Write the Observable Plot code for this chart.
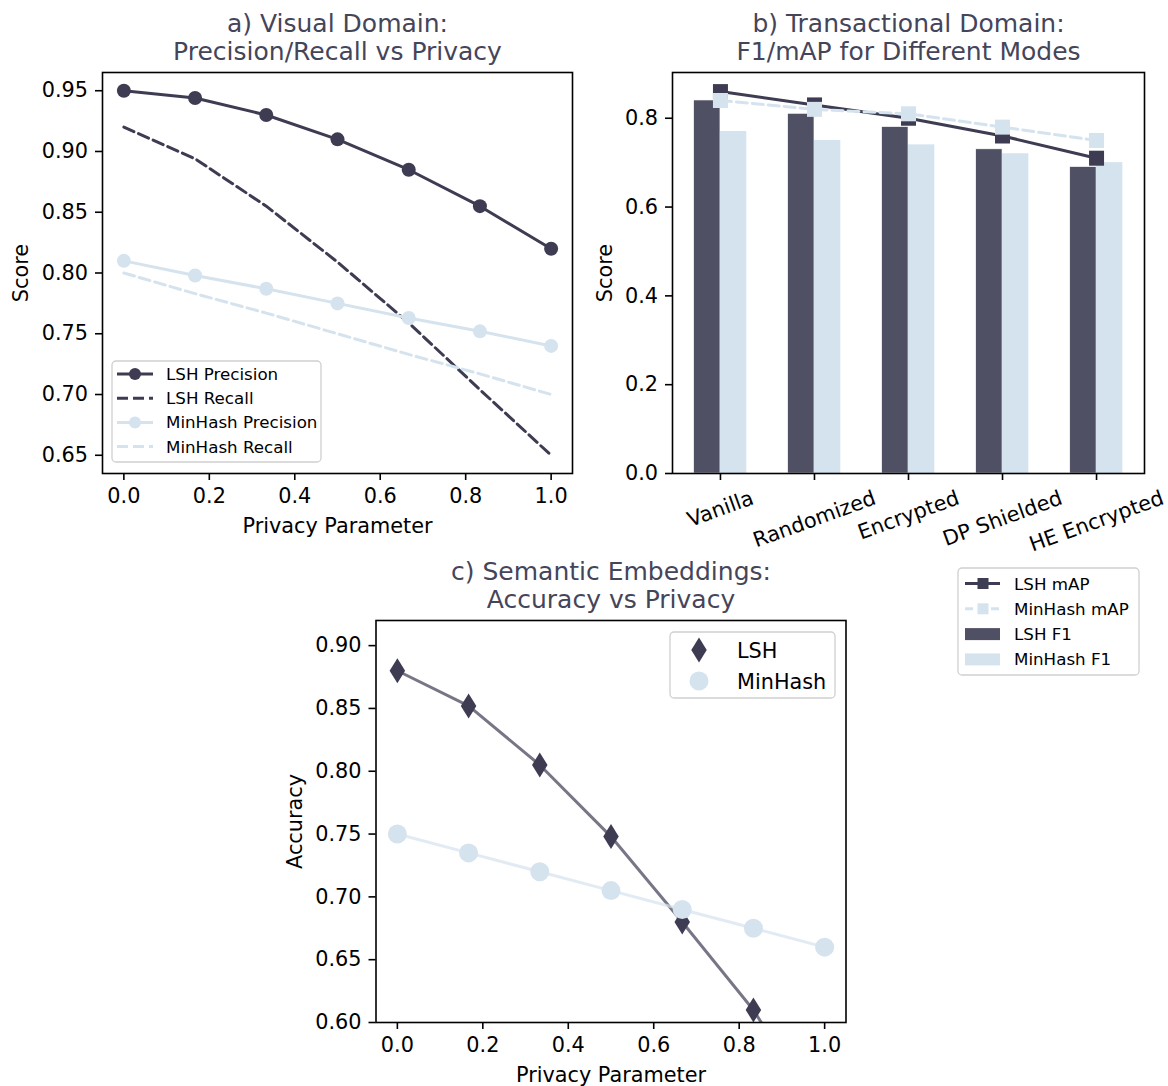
<!DOCTYPE html>
<html><head><meta charset="utf-8">
<script src="https://cdn.jsdelivr.net/npm/d3@7"></script>
<script src="https://cdn.jsdelivr.net/npm/@observablehq/plot@0.6"></script>
<style>
html,body{margin:0;padding:0;background:#fff;}
#fig{position:relative;width:1168px;height:1086px;background:#fff;font-family:"DejaVu Sans",sans-serif;overflow:hidden;}
</style></head><body><div id="fig"></div>
<script>
// ---------- data ----------
const privacy = [0, 0.1667, 0.3333, 0.5, 0.6667, 0.8333, 1.0];
const lshPrecision = [0.950, 0.944, 0.930, 0.910, 0.885, 0.855, 0.820];
const lshRecall = [0.920, 0.894, 0.855, 0.809, 0.759, 0.704, 0.650];
const minhashPrecision = [0.810, 0.798, 0.787, 0.775, 0.763, 0.752, 0.740];
const minhashRecall = [0.800, 0.783, 0.767, 0.750, 0.733, 0.717, 0.700];

const modes = ["Vanilla", "Randomized", "Encrypted", "DP Shielded", "HE Encrypted"];
const lshF1 = [0.84, 0.81, 0.78, 0.73, 0.69];
const minhashF1 = [0.77, 0.75, 0.74, 0.72, 0.70];
const lshMAP = [0.86, 0.83, 0.80, 0.76, 0.71];
const minhashMAP = [0.84, 0.82, 0.81, 0.78, 0.75];

const semPrivacy = [0, 0.1667, 0.3333, 0.5, 0.6667, 0.8333, 1.0];
const lshAccuracy = [0.880, 0.852, 0.805, 0.748, 0.680, 0.610, 0.520];
const minhashAccuracy = [0.750, 0.735, 0.720, 0.705, 0.690, 0.675, 0.660];

const privacyTicks = [0, 0.2, 0.4, 0.6, 0.8, 1.0];
const scoreTicksA = [0.65, 0.70, 0.75, 0.80, 0.85, 0.90, 0.95];
const scoreTicksB = [0.0, 0.2, 0.4, 0.6, 0.8];
const accuracyTicks = [0.60, 0.65, 0.70, 0.75, 0.80, 0.85, 0.90];

// ---------- style ----------
const FONT = "DejaVu Sans";
const DARK = "#3d3c52";
const BAR_DARK = "#505064";
const LIGHT = "#d5e3ee";
const TITLE = "#45455a";
const TICK_FS = 20.8;
const TITLE_FS = 25;

const fig = document.getElementById("fig");
function place(node, left, top) {
  node.style.position = "absolute";
  node.style.left = left + "px";
  node.style.top = top + "px";
  fig.appendChild(node);
}
const baseStyle = {fontFamily: FONT, fontSize: TICK_FS + "px", color: "black", background: "transparent", overflow: "visible"};

function axes(xTicks, xFmt, yTicks, yFmt) {
  return [
    Plot.axisX(xTicks, {anchor: "bottom", tickSize: 7, tickPadding: 7.5, tickFormat: xFmt, fontSize: TICK_FS, strokeWidth: 1.6, label: null}),
    Plot.axisY(yTicks, {anchor: "left", tickSize: 7, tickPadding: 7.5, tickFormat: yFmt, fontSize: TICK_FS, strokeWidth: 1.6, label: null})
  ];
}
function title(t) {
  return Plot.text([t], {frameAnchor: "top", dy: -13, lineAnchor: "bottom", lineHeight: 1.12, fontSize: TITLE_FS, fill: TITLE});
}
function xLabel(t) {
  return Plot.text([t], {frameAnchor: "bottom", dy: 45, lineAnchor: "top", fontSize: TICK_FS});
}
function yLabel(t, dx) {
  return Plot.text([t], {frameAnchor: "left", dx, rotate: -90, textAnchor: "middle", lineAnchor: "middle", fontSize: TICK_FS});
}
const frame = Plot.frame({stroke: "black", strokeWidth: 1.6});

// custom symbols
const squareSym = {draw(ctx, size) { const r = Math.sqrt(size / Math.PI); ctx.rect(-r, -r, 2 * r, 2 * r); }};
const thinDiamond = {draw(ctx, size) { const r = Math.sqrt(size / Math.PI); ctx.moveTo(0, -r); ctx.lineTo(r * 0.62, 0); ctx.lineTo(0, r); ctx.lineTo(-r * 0.62, 0); ctx.closePath(); }};

// ---------- panel a ----------
const visual = privacy.map((p, i) => ({p, lp: lshPrecision[i], lr: lshRecall[i], mp: minhashPrecision[i], mr: minhashRecall[i]}));
const panelA = Plot.plot({
  width: 590, height: 540, marginLeft: 102, marginRight: 18, marginTop: 72, marginBottom: 67,
  x: {domain: [-0.05, 1.05]}, y: {domain: [0.635, 0.965]},
  style: baseStyle,
  marks: [
    Plot.line(visual, {x: "p", y: "lp", stroke: DARK, strokeWidth: 3}),
    Plot.dot(visual, {x: "p", y: "lp", r: 7, fill: DARK}),
    Plot.line(visual, {x: "p", y: "lr", stroke: DARK, strokeWidth: 3, strokeDasharray: "11,5"}),
    Plot.line(visual, {x: "p", y: "mp", stroke: LIGHT, strokeWidth: 3}),
    Plot.dot(visual, {x: "p", y: "mp", r: 7, fill: LIGHT}),
    Plot.line(visual, {x: "p", y: "mr", stroke: LIGHT, strokeWidth: 3, strokeDasharray: "11,5"}),
    ...axes(privacyTicks, d3.format(".1f"), scoreTicksA, d3.format(".2f")),
    frame,
    title("a) Visual Domain:\nPrecision/Recall vs Privacy"),
    xLabel("Privacy Parameter"),
    yLabel("Score", -81)
  ]
});
place(panelA, 0, 0);

// ---------- panel b ----------
const BW = 0.28;
const trans = modes.map((m, i) => ({i, m, lf: lshF1[i], mf: minhashF1[i], lm: lshMAP[i], mm: minhashMAP[i]}));
const ctx2 = document.createElement("canvas").getContext("2d");
ctx2.font = TICK_FS + 'px "DejaVu Sans"';
const sin20 = Math.sin(20 * Math.PI / 180), cos20 = Math.cos(20 * Math.PI / 180);
const modeLabels = modes.map((m, i) => {
  const w = ctx2.measureText(m).width;
  const off = 14.6 + (w * sin20 + 19.5 * cos20) / 2;
  return Plot.text([i], {x: d => d, frameAnchor: "bottom", text: () => m, rotate: -20, textAnchor: "middle", lineAnchor: "middle", dy: off, fontSize: TICK_FS});
});
const panelB = Plot.plot({
  width: 588, height: 545, marginLeft: 92, marginRight: 24, marginTop: 72, marginBottom: 72,
  x: {domain: [-0.51, 4.51]}, y: {domain: [0, 0.903]},
  style: baseStyle,
  marks: [
    Plot.rectY(trans, {x1: d => d.i - BW, x2: d => d.i, y: "lf", fill: BAR_DARK, stroke: "white", strokeWidth: 0.6}),
    Plot.rectY(trans, {x1: d => d.i, x2: d => d.i + BW, y: "mf", fill: LIGHT}),
    Plot.line(trans, {x: "i", y: "lm", stroke: DARK, strokeWidth: 3}),
    Plot.dot(trans, {x: "i", y: "lm", r: 7.5, symbol: squareSym, fill: DARK}),
    Plot.line(trans, {x: "i", y: "mm", stroke: LIGHT, strokeWidth: 3, strokeDasharray: "11,5"}),
    Plot.dot(trans, {x: "i", y: "mm", r: 7.5, symbol: squareSym, fill: LIGHT}),
    Plot.axisX([0, 1, 2, 3, 4], {anchor: "bottom", tickSize: 7, tickFormat: () => "", strokeWidth: 1.6, label: null}),
    Plot.axisY(scoreTicksB, {anchor: "left", tickSize: 7, tickPadding: 7.5, tickFormat: d3.format(".1f"), fontSize: TICK_FS, strokeWidth: 1.6, label: null}),
    ...modeLabels,
    frame,
    title("b) Transactional Domain:\nF1/mAP for Different Modes"),
    yLabel("Score", -67)
  ]
});
place(panelB, 580, 0);

// ---------- panel c ----------
const sem = semPrivacy.map((p, i) => ({p, l: lshAccuracy[i], m: minhashAccuracy[i]}));
const panelC = Plot.plot({
  width: 600, height: 541, marginLeft: 105.5, marginRight: 24.5, marginTop: 75, marginBottom: 64,
  x: {domain: [-0.05, 1.05]}, y: {domain: [0.6, 0.92]},
  style: baseStyle,
  marks: [
    Plot.line(sem, {x: "p", y: "l", stroke: DARK, strokeOpacity: 0.7, strokeWidth: 3, clip: true}),
    Plot.line(sem, {x: "p", y: "m", stroke: LIGHT, strokeOpacity: 0.7, strokeWidth: 3, clip: true}),
    Plot.dot(sem, {x: "p", y: "l", r: 12.5, symbol: thinDiamond, fill: DARK, clip: true}),
    Plot.dot(sem, {x: "p", y: "m", r: 9.5, fill: LIGHT, clip: true}),
    ...axes(privacyTicks, d3.format(".1f"), accuracyTicks, d3.format(".2f")),
    frame,
    title("c) Semantic Embeddings:\nAccuracy vs Privacy"),
    xLabel("Privacy Parameter"),
    yLabel("Accuracy", -80.5)
  ]
});
place(panelC, 270, 545);

// ---------- legends ----------
function legendBox(left, top, w, h, draw) {
  const svg = d3.create("svg").attr("width", w + 4).attr("height", h + 4)
    .style("position", "absolute").style("left", (left - 2) + "px").style("top", (top - 2) + "px").style("overflow", "visible");
  svg.append("rect").attr("x", 2).attr("y", 2).attr("width", w).attr("height", h).attr("rx", 4)
    .attr("fill", "white").attr("fill-opacity", 0.8).attr("stroke", "#d0d0d0").attr("stroke-width", 1.3);
  draw(svg.append("g").attr("transform", "translate(2,2)").attr("font-family", FONT));
  fig.appendChild(svg.node());
}

// legend a
legendBox(112, 361, 209, 101, g => {
  const items = [
    {label: "LSH Precision", color: DARK, dash: null, marker: true},
    {label: "LSH Recall", color: DARK, dash: "11,5", marker: false},
    {label: "MinHash Precision", color: LIGHT, dash: null, marker: true},
    {label: "MinHash Recall", color: LIGHT, dash: "11,5", marker: false}
  ];
  items.forEach((it, k) => {
    const cy = 13 + 24.2 * k;
    g.append("line").attr("x1", 5).attr("x2", 41).attr("y1", cy).attr("y2", cy)
      .attr("stroke", it.color).attr("stroke-width", 3).attr("stroke-dasharray", it.dash);
    if (it.marker) g.append("circle").attr("cx", 23).attr("cy", cy).attr("r", 6).attr("fill", it.color);
    g.append("text").attr("x", 54).attr("y", cy + 6).attr("font-size", 16.7).attr("fill", "black").text(it.label);
  });
});

// legend b
legendBox(958, 568, 181, 107, g => {
  const items = [
    {label: "LSH mAP", kind: "line", color: DARK, dash: null},
    {label: "MinHash mAP", kind: "line", color: LIGHT, dash: "8,5"},
    {label: "LSH F1", kind: "patch", color: BAR_DARK},
    {label: "MinHash F1", kind: "patch", color: LIGHT}
  ];
  items.forEach((it, k) => {
    const cy = 15.5 + 25.3 * k;
    if (it.kind === "line") {
      g.append("line").attr("x1", 7).attr("x2", 42).attr("y1", cy).attr("y2", cy)
        .attr("stroke", it.color).attr("stroke-width", 3).attr("stroke-dasharray", it.dash);
      g.append("rect").attr("x", 19.5).attr("y", cy - 5.5).attr("width", 11).attr("height", 11).attr("fill", it.color);
    } else {
      g.append("rect").attr("x", 7).attr("y", cy - 6).attr("width", 35).attr("height", 12).attr("fill", it.color);
    }
    g.append("text").attr("x", 56).attr("y", cy + 6).attr("font-size", 16.7).attr("fill", "black").text(it.label);
  });
});

// legend c
legendBox(670, 632, 165, 66, g => {
  const dPath = d3.path();
  const r = 12.5;
  dPath.moveTo(29, 18 - r); dPath.lineTo(29 + r * 0.62, 18); dPath.lineTo(29, 18 + r); dPath.lineTo(29 - r * 0.62, 18); dPath.closePath();
  g.append("path").attr("d", dPath.toString()).attr("fill", DARK);
  g.append("text").attr("x", 67).attr("y", 18 + 7.5).attr("font-size", TICK_FS).attr("fill", "black").text("LSH");
  g.append("circle").attr("cx", 29).attr("cy", 49).attr("r", 9.5).attr("fill", LIGHT);
  g.append("text").attr("x", 67).attr("y", 49 + 7.5).attr("font-size", TICK_FS).attr("fill", "black").text("MinHash");
});
</script>
</body></html>
